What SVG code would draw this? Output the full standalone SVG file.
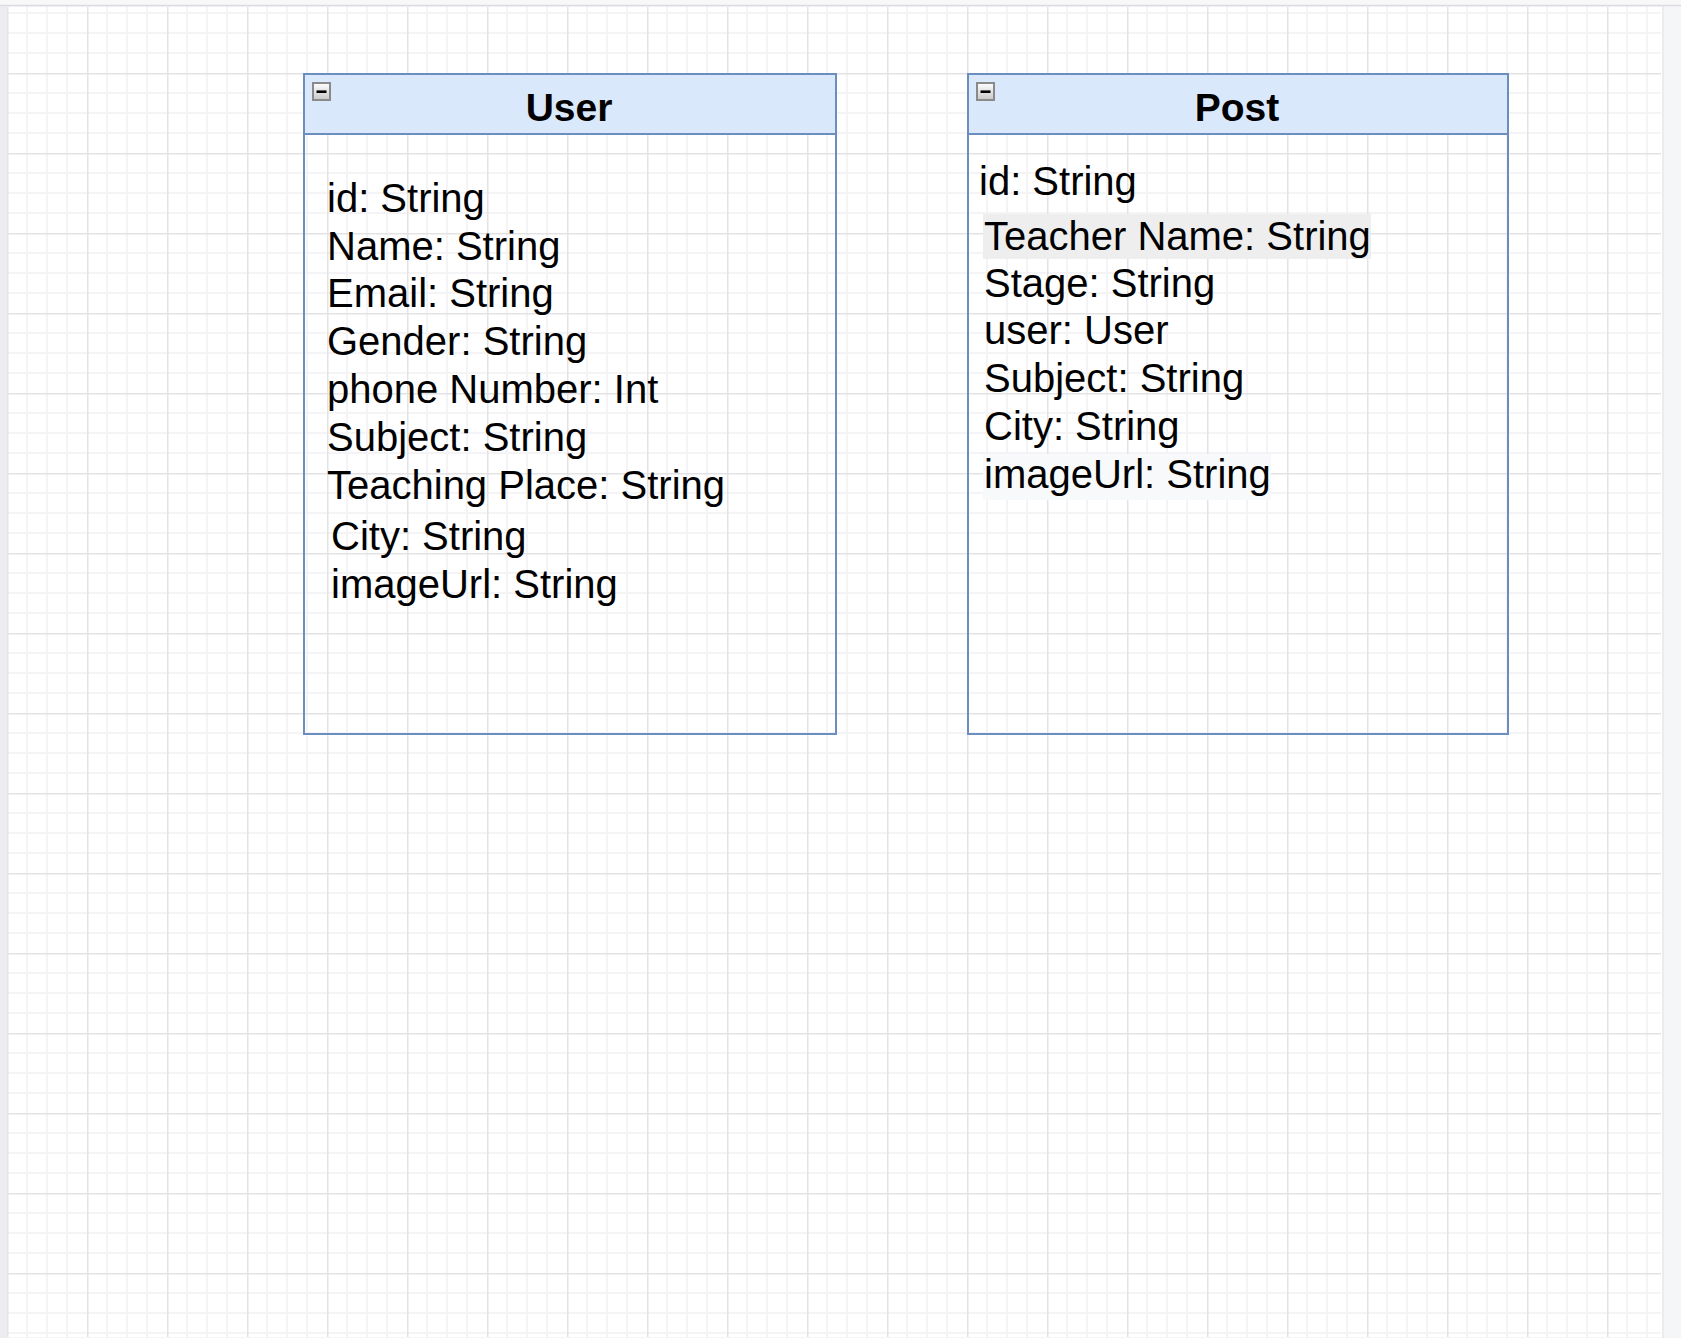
<svg xmlns="http://www.w3.org/2000/svg" width="1681" height="1338" viewBox="0 0 1681 1338">
  <style>
    .hdr { fill: #dae8fc; stroke: #6c8ebf; stroke-width: 2; }
    .body { fill: none; stroke: #6c8ebf; stroke-width: 2; }
    .title { font-family: "Liberation Sans", Arial, sans-serif; font-weight: bold; font-size: 39px; fill: #000; text-anchor: middle; }
    .attr { font-family: "Liberation Sans", Arial, sans-serif; font-size: 40px; fill: #000; }
    .minor { stroke: #f4f4f6; stroke-width: 2; }
    .major { stroke: #e3e3e6; stroke-width: 1.5; }
  </style>
  <defs>
    <pattern id="grid" patternUnits="userSpaceOnUse" x="7" y="-7" width="80" height="80">
      <line class="minor" x1="20" y1="0" x2="20" y2="80"/>
      <line class="minor" x1="40" y1="0" x2="40" y2="80"/>
      <line class="minor" x1="60" y1="0" x2="60" y2="80"/>
      <line class="minor" x1="0" y1="20" x2="80" y2="20"/>
      <line class="minor" x1="0" y1="40" x2="80" y2="40"/>
      <line class="minor" x1="0" y1="60" x2="80" y2="60"/>
      <line class="major" x1="0.75" y1="0" x2="0.75" y2="80"/>
      <line class="major" x1="0" y1="0.75" x2="80" y2="0.75"/>
    </pattern>
    <linearGradient id="btn" x1="0" y1="0" x2="0" y2="1">
      <stop offset="0" stop-color="#ffffff"/>
      <stop offset="1" stop-color="#c8c8c8"/>
    </linearGradient>
    <g id="collapse">
      <rect x="0" y="0" width="17" height="17" fill="url(#btn)" stroke="#8a8a8a" stroke-width="2"/>
      <line x1="3.5" y1="8.7" x2="13.5" y2="8.7" stroke="#000" stroke-width="2.6"/>
    </g>
  </defs>

  <!-- page background -->
  <rect x="0" y="0" width="1681" height="1338" fill="#f5f6f8"/>
  <rect x="0" y="0" width="1681" height="5" fill="#f8f8f8"/>
  <line x1="0" y1="5.5" x2="1681" y2="5.5" stroke="#dcdce0" stroke-width="1.5"/>
  <rect x="0" y="6" width="7" height="1332" fill="#ecedf0"/>
  <rect x="7" y="7" width="1656" height="1330" fill="#ffffff"/>
  <rect x="7" y="7" width="1654" height="1330" fill="url(#grid)"/>
  <line x1="1663" y1="6" x2="1663" y2="1338" stroke="#e6e7ea" stroke-width="1.5"/>

  <g id="connectors"></g>

  <g id="node-user">
    <rect class="body" x="304" y="74" width="532" height="660"/>
    <rect class="hdr" x="304" y="74" width="532" height="60"/>
    <use href="#collapse" x="313" y="83"/>
    <text class="title" x="569" y="120.5">User</text>
    <text class="attr" x="327" y="212">id: String</text>
    <text class="attr" x="327" y="260">Name: String</text>
    <text class="attr" x="327" y="307">Email: String</text>
    <text class="attr" x="327" y="355">Gender: String</text>
    <text class="attr" x="327" y="403">phone Number: Int</text>
    <text class="attr" x="327" y="451">Subject: String</text>
    <text class="attr" x="327" y="499">Teaching Place: String</text>
    <text class="attr" x="331" y="550">City: String</text>
    <text class="attr" x="331" y="598">imageUrl: String</text>
  </g>

  <g id="node-post">
    <rect class="body" x="968" y="74" width="540" height="660"/>
    <rect class="hdr" x="968" y="74" width="540" height="60"/>
    <use href="#collapse" x="977" y="83"/>
    <text class="title" x="1237" y="120.5">Post</text>
    <rect x="983" y="214" width="388" height="45" fill="#eeeeee"/>
    <rect x="983" y="454" width="288" height="46" fill="#f8f9fb"/>
    <text class="attr" x="979" y="195">id: String</text>
    <text class="attr" x="984" y="250">Teacher Name: String</text>
    <text class="attr" x="984" y="297">Stage: String</text>
    <text class="attr" x="984" y="344">user: User</text>
    <text class="attr" x="984" y="392">Subject: String</text>
    <text class="attr" x="984" y="440">City: String</text>
    <text class="attr" x="984" y="488">imageUrl: String</text>
  </g>
</svg>
